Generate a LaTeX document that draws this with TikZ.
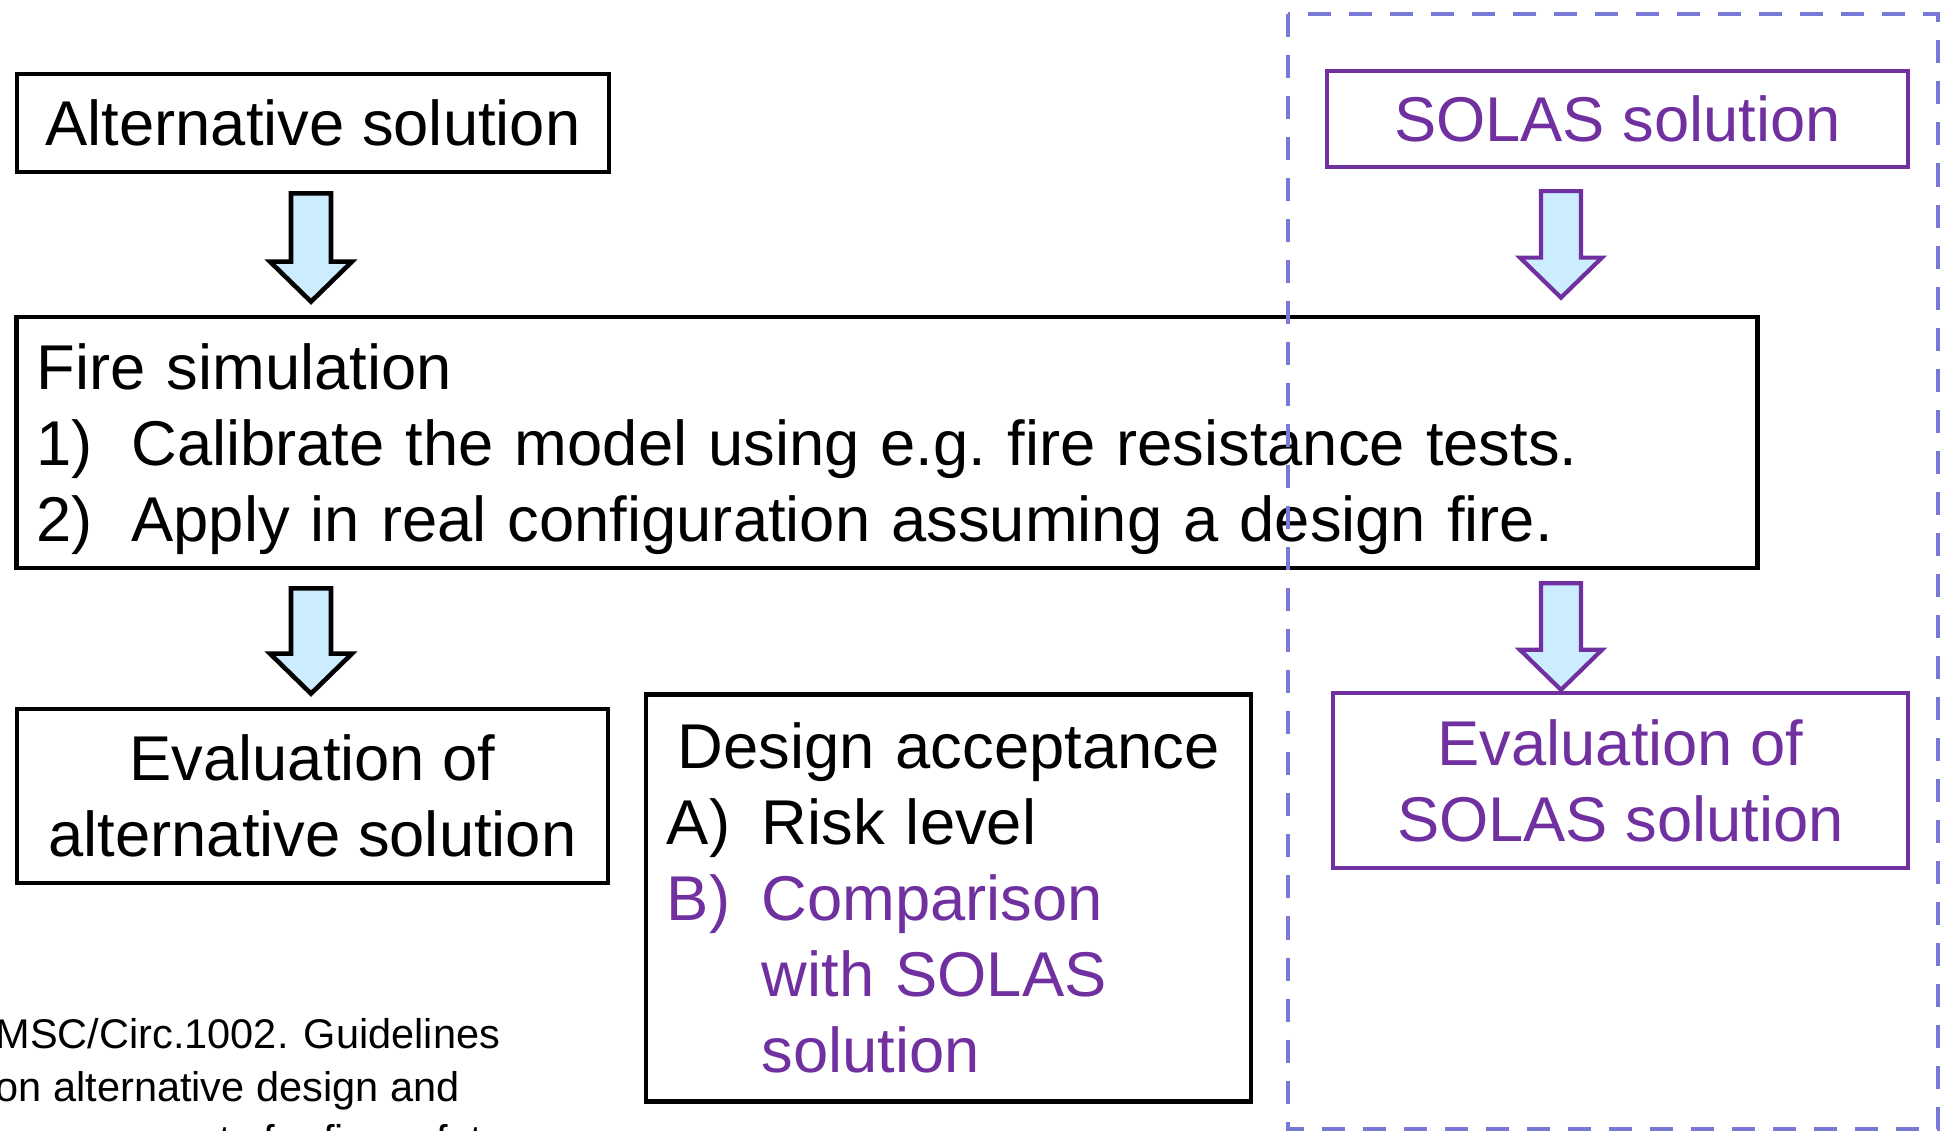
\documentclass[tikz,border=0pt]{standalone}
\usepackage{fontspec}
\setmainfont{Liberation Sans}
\usetikzlibrary{calc, positioning}
\definecolor{solaspurple}{HTML}{7030A0}
\definecolor{framelilac}{HTML}{7878D6}
\definecolor{arrowfill}{HTML}{CCECFF}
% block arrow pointing down: style, top point, tip point
\newcommand{\blockdown}[3]{%
  \draw[#1] ($(#2)+(-20,0)$) -- ($(#2)+(20,0)$) -- ($(#3)+(20,-40)$) -- ($(#3)+(41,-40)$)
    -- (#3) -- ($(#3)+(-41,-40)$) -- ($(#3)+(-20,-40)$) -- cycle;}
\newcommand{\itemlabel}[1]{\makebox[0.95cm][l]{#1}}

\begin{document}
\begin{tikzpicture}[x=0.01cm, y=-0.01cm, font=\fontsize{18}{21.6}\selectfont,
  stepbox/.style={draw, line width=1.3pt, inner sep=0pt},
  solasbox/.style={draw=solaspurple, text=solaspurple, line width=1.2pt, inner sep=0pt},
  downblack/.style={draw, line width=1.3pt, fill=arrowfill},
  downpurple/.style={draw=solaspurple, line width=1.2pt, fill=arrowfill},
  solasframe/.style={draw=framelilac, line width=1.4pt, dash pattern=on 0.23cm off 0.18cm}]
\useasboundingbox (0,0) rectangle (1944,1131);
\clip (0,0) rectangle (1944,1131);

% left column
\node[stepbox, minimum width=5.92cm, minimum height=0.98cm] (alt) at (313,123) {Alternative solution};
\node[stepbox, minimum width=17.40cm, minimum height=2.51cm, inner xsep=0.2cm, text width=17.0cm,
  align=left, text depth=1.52cm] (fire) at (887,442.5)
  {Fire simulation\\
   \itemlabel{1)}Calibrate the model using e.g.\ fire resistance tests.\\
   \itemlabel{2)}Apply in real configuration assuming a design fire.};
\node[stepbox, minimum width=5.91cm, minimum height=1.74cm, align=center] (evalalt) at (312.5,796)
  {Evaluation of\\alternative solution};
\node[stepbox, minimum width=6.05cm, minimum height=4.07cm, inner xsep=0.21cm, text width=5.63cm,
  align=left] (accept) at (948.5,898)
  {\makebox[\linewidth]{Design acceptance}\\
   \itemlabel{A)}Risk level\\
   \textcolor{solaspurple}{\itemlabel{B)}Comparison}\\
   \textcolor{solaspurple}{\hspace*{0.95cm}with SOLAS}\\
   \textcolor{solaspurple}{\hspace*{0.95cm}solution}};

% SOLAS side
\draw[solasframe] (1288,14) rectangle (1938,1129);
\node[solasbox, minimum width=5.81cm, minimum height=0.96cm] (solas) at (1617.5,119) {SOLAS solution};
\node[solasbox, minimum width=5.75cm, minimum height=1.75cm, align=center] (evalsolas) at (1620.5,780.5)
  {Evaluation of\\SOLAS solution};

% reference
\node[font=\fontsize{11.8}{15.1}\selectfont, align=left, anchor=north west, inner sep=0pt] (circ) at (-5,1018)
  {MSC/Circ.1002. Guidelines\\on alternative design and\\arrangements for fire safety};

% arrows
\coordinate (colA) at (311,0);
\coordinate (colB) at (1561,0);
\coordinate (a1) at ($(colA |- alt.south)+(0,19)$);
\coordinate (a1tip) at ($(colA |- fire.north)+(0,-13)$);
\coordinate (a2) at ($(colA |- fire.south)+(0,18)$);
\coordinate (a2tip) at ($(colA |- evalalt.north)+(0,-13)$);
\coordinate (b1) at ($(colB |- solas.south)+(0,22)$);
\coordinate (b1tip) at ($(colB |- fire.north)+(0,-17)$);
\coordinate (b2) at ($(colB |- fire.south)+(0,13)$);
\coordinate (b2tip) at ($(colB |- evalsolas.north)+(0,-1)$);
\blockdown{downblack}{a1}{a1tip}
\blockdown{downblack}{a2}{a2tip}
\blockdown{downpurple}{b1}{b1tip}
\blockdown{downpurple}{b2}{b2tip}
\end{tikzpicture}
\end{document}
